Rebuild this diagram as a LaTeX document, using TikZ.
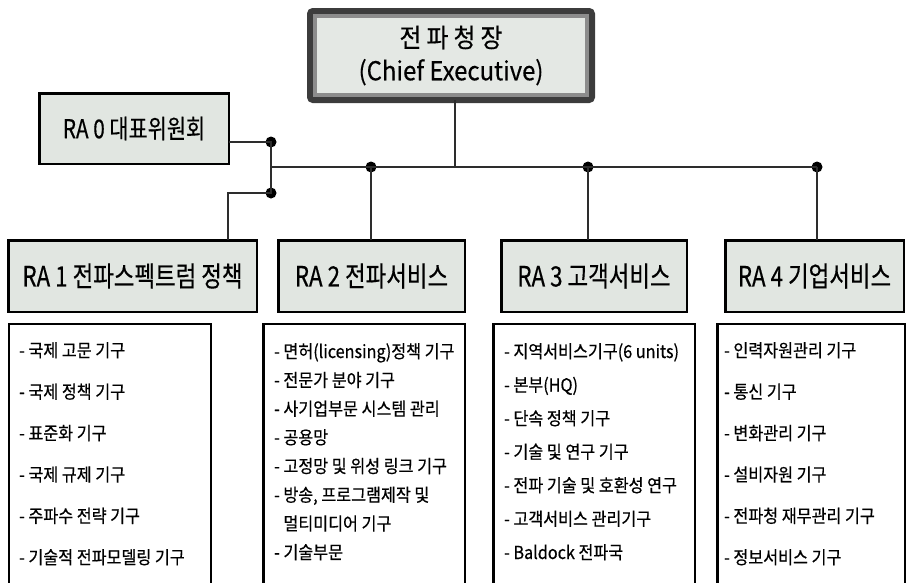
\documentclass[tikz,border=0pt]{standalone}
\usepackage{fontspec}
\newfontfamily\krT[FakeStretch=0.8,FakeBold=0.4]{Noto Sans CJK KR}
\newfontfamily\krC[FakeStretch=0.92,FakeBold=0.4]{Noto Sans CJK KR}
\newfontfamily\krL[FakeStretch=0.9,FakeBold=0.5]{Noto Sans CJK KR}
\definecolor{boxfill}{RGB}{225,230,225}
\definecolor{ceodark}{RGB}{60,60,60}
\definecolor{ceomid}{RGB}{140,140,140}
\definecolor{ceofill}{RGB}{228,232,228}
\definecolor{linec}{RGB}{45,45,45}
\begin{document}
\begin{tikzpicture}[x=1pt,y=-1pt,
  ra/.style={draw=black,line width=2.5pt,fill=boxfill,inner sep=0pt,outer sep=0pt,
    minimum height=71.5pt,font=\krT\fontsize{28}{32}\selectfont},
  ceobox/.style={draw=ceodark,line width=6pt,fill=ceofill,rounded corners=3pt,
    inner sep=0pt,outer sep=0pt,minimum width=282pt,minimum height=89pt,align=center,
    font=\krC\fontsize{26}{33}\selectfont},
  lbox/.style={draw=none,inner sep=0pt,outer sep=0pt,minimum height=262pt},
  frame/.style={draw=black,line width=2.5pt},
  item/.style={anchor=base west,inner sep=0pt,font=\krL\fontsize{18}{20}\selectfont},
  conn/.style={draw=linec,line width=1.6pt},
  dot/.style={circle,fill=black,inner sep=0pt,minimum size=11pt}]
\clip (0,0) rectangle (908,582);
% top box
\node[ceobox] (ceo) at (451,55.5) {전\hspace{5pt}파\hspace{5pt}청\hspace{5pt}장\\(Chief Executive)};
\draw[ceomid,line width=4pt] ([shift={(5,5)}]ceo.north west) rectangle ([shift={(-5,-5)}]ceo.south east);
% RA boxes
\node[ra,minimum width=189.5pt,minimum height=70.5pt,font=\krT\fontsize{26}{30}\selectfont] (ra0) at (134,128.5) {RA 0 대표위원회};
\node[ra,minimum width=248.5pt] (ra1) at (132.5,276) {RA 1 전파스펙트럼 정책};
\node[ra,minimum width=186.5pt] (ra2) at (371.5,276) {RA 2 전파서비스};
\node[ra,minimum width=185.5pt] (ra3) at (594,276) {RA 3 고객서비스};
\node[ra,minimum width=178.5pt] (ra4) at (814.5,276) {RA 4 기업서비스};
% junctions
\coordinate (j0) at (455,167);
\coordinate (jL) at (271,167);
\coordinate (c1) at (228,193);
\node[dot] (dA) at (271,142) {};
\node[dot] (dB) at (271,193) {};
\node[dot] (d2) at (371,167) {};
\node[dot] (d3) at (588,167) {};
\node[dot] (d4) at (817,167) {};
% connectors
\draw[conn] (j0 |- ceo.south) -- (j0);
\draw[conn] (jL) -- (d4.center);
\draw[conn] (dA.center -| ra0.east) -- (dA.center) -- (dB.center) -- (c1) -- (c1 |- ra1.north);
\draw[conn] (d2.center) -- (d2.center |- ra2.north);
\draw[conn] (d3.center) -- (d3.center |- ra3.north);
\draw[conn] (d4.center) -- (d4.center |- ra4.north);
% list boxes
\node[lbox,minimum width=202pt] (lb1) at (110,455) {};
\node[lbox,minimum width=201.5pt] (lb2) at (364,455) {};
\node[lbox,minimum width=201.5pt] (lb3) at (594,455) {};
\node[lbox,minimum width=187.5pt] (lb4) at (811,455) {};
\foreach \b in {lb1,lb2,lb3,lb4}
  \draw[frame] (\b.south west) |- (\b.north east) -- (\b.south east);
% list texts
\foreach \t [count=\i] in {국제 고문 기구,국제 정책 기구,표준화 기구,국제 규제 기구,주파수 전략 기구,기술적 전파모델링 기구}
  \node[item] (la\i) at (19,357+41.4*\i-41.4) {- \t};
\foreach \t [count=\i] in {면허(licensing)정책 기구,전문가 분야 기구,사기업부문 시스템 관리,공용망,고정망 및 위성 링크 기구,{방송, 프로그램제작 및}}
  \node[item] (lc\i) at (274,358+28.7*\i-28.7) {- \t};
\node[item] (lc7) at (274,358+28.7*6) {\phantom{- }멀티미디어 기구};
\node[item] (lc8) at (274,358+28.7*7) {- 기술부문};
\foreach \t [count=\i] in {지역서비스기구(6 units),본부(HQ),단속 정책 기구,기술 및 연구 기구,전파 기술 및 호환성 연구,고객서비스 관리기구,Baldock 전파국}
  \node[item] (ld\i) at (504,358+33.5*\i-33.5) {- \t};
\foreach \t [count=\i] in {인력자원관리 기구,통신 기구,변화관리 기구,설비자원 기구,전파청 재무관리 기구,정보서비스 기구}
  \node[item] (le\i) at (724,357+41.4*\i-41.4) {- \t};
\end{tikzpicture}
\end{document}
